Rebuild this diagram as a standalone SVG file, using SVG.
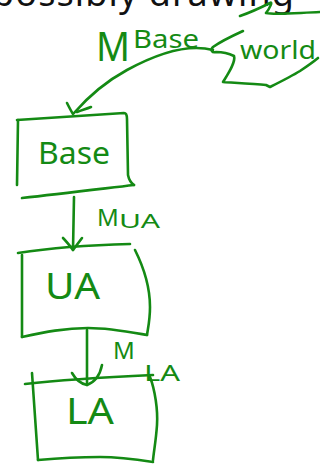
<svg xmlns="http://www.w3.org/2000/svg" width="320" height="465" viewBox="0 0 320 465">
<style>
.ink{fill:none;stroke:#148a14;stroke-width:2.6;stroke-linecap:round;stroke-linejoin:round}
.hw{fill:#148a14;font-family:"Noto Sans","DejaVu Sans",sans-serif}
.title{fill:#111;font-family:"Noto Sans","Open Sans",sans-serif;font-size:36px}
</style>
<rect width="320" height="465" fill="#fff"/>
<g id="title"><text class="title" x="-8" y="6" textLength="302" lengthAdjust="spacing">possibly drawing</text></g>
<g id="world">
<path class="ink" d="M240,16 C252,12 262,7 270,3 C273,1 270,8 266,13 C275,15 295,13 320,12"/>
<path class="ink" d="M243,31 C232,36 220,42 213,47 C210,50 212,53 216,52 C222,52 230,54 234,56 C236,62 228,74 223,82 C238,83 255,84 266,85 L270,87 C280,82 292,76 300,71 C306,67 312,63 318,58"/>
<text class="hw" x="240" y="59" font-size="25" textLength="76" lengthAdjust="spacingAndGlyphs">world</text>
</g>
<g id="base">
<path class="ink" d="M17,120 C50,118 90,115 124,113 C127,113 127,116 127,119 L128,175 C129,180 131,183 134,185"/>
<path class="ink" d="M18,120 L17,185"/>
<path class="ink" d="M22,198 C60,194 100,189 134,185"/>
<text class="hw" x="38" y="164" font-size="30" textLength="72" lengthAdjust="spacingAndGlyphs">Base</text>
</g>
<g id="ua">
<path class="ink" d="M18,253 C50,248 90,245 130,244"/>
<path class="ink" d="M22,255 L22,337"/>
<path class="ink" d="M135,250 C145,270 150,290 150,307 C150,320 148,328 147,335"/>
<path class="ink" d="M22,337 C45,332 65,328 88,328 C110,328 130,332 147,335"/>
<text class="hw" x="45" y="299" font-size="36" textLength="55" lengthAdjust="spacingAndGlyphs">UA</text>
</g>
<g id="la">
<path class="ink" d="M25,384 C60,380 110,377 153,375"/>
<path class="ink" d="M32,373 C34,400 36,430 38,460"/>
<path class="ink" d="M150,377 C155,390 158,410 157,425 C156,440 154,450 153,460"/>
<path class="ink" d="M38,460 C60,458 80,457 100,457 C120,457 140,460 153,462"/>
<text class="hw" x="66" y="424" font-size="36" textLength="48" lengthAdjust="spacingAndGlyphs">LA</text>
</g>
<g id="connectors">
<path class="ink" d="M213,50 C190,44 160,52 127,70 C105,82 88,97 74,113"/>
<path class="ink" d="M67,103 C69,107 71,111 73,114 M77,112 C82,110 86,109 91,107"/>
<text class="hw" x="96" y="61" font-size="40" textLength="34" lengthAdjust="spacingAndGlyphs">M</text>
<text class="hw" x="133" y="48" font-size="26" textLength="66" lengthAdjust="spacingAndGlyphs">Base</text>
<path class="ink" d="M74,197 L73,250"/>
<path class="ink" d="M63,238 C67,242 70,246 73,250 C76,246 79,242 82,238"/>
<text class="hw" x="97" y="226" font-size="24">M</text>
<text class="hw" x="119" y="228" font-size="20" textLength="41" lengthAdjust="spacingAndGlyphs">UA</text>
<path class="ink" d="M87,330 L87,385"/>
<path class="ink" d="M72,373 C76,380 82,384 87,385 C95,382 100,375 102,365"/>
<text class="hw" x="113" y="359" font-size="24">M</text>
<text class="hw" x="144" y="381" font-size="22" textLength="36" lengthAdjust="spacingAndGlyphs">LA</text>
</g>
</svg>
